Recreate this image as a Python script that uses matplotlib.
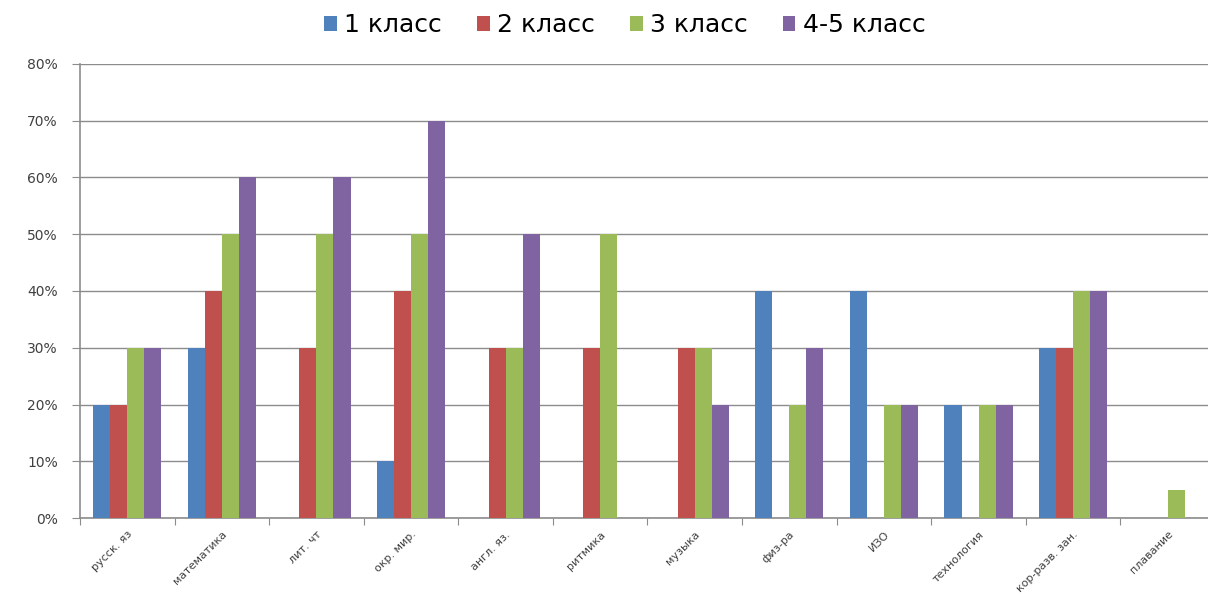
import matplotlib.pyplot as plt
import numpy as np
from matplotlib.ticker import PercentFormatter

# --- Data ---
subjects = ['русск. яз', 'математика', 'лит. чт', 'окр. мир.', 'англ. яз.', 'ритмика',
            'музыка', 'физ-ра', 'ИЗО', 'технология', 'кор-разв. зан.', 'плавание']
grade1 = [20, 30, 0, 10, 0, 0, 0, 40, 40, 20, 30, 0]
grade2 = [20, 40, 30, 40, 30, 30, 30, 0, 0, 0, 30, 0]
grade3 = [30, 50, 50, 50, 30, 50, 30, 20, 20, 20, 40, 5]
grade45 = [30, 60, 60, 70, 50, 0, 20, 30, 20, 20, 40, 0]
series_names = ['1 класс', '2 класс', '3 класс', '4-5 класс']
colors = ['#4F81BD', '#C0504D', '#9BBB59', '#8064A2']

fig = plt.figure(figsize=(12.08, 6.11), dpi=100)
ax = fig.add_axes([80 / 1208, 93 / 611, 1135 / 1208, 454 / 611])

x = np.arange(len(subjects))
w = 0.18
for i, (vals, name, c) in enumerate(zip([grade1, grade2, grade3, grade45], series_names, colors)):
    ax.bar(x + (i - 1.5) * w, vals, width=w, color=c, label=name, zorder=3)

ax.set_ylim(0, 80)
ax.set_xlim(-0.5, len(subjects) - 0.5)
ax.set_yticks(range(0, 81, 10))
ax.yaxis.set_major_formatter(PercentFormatter(decimals=0))
ax.grid(axis='y', color='#8c8c8c', linewidth=1, zorder=0)

ax.set_xticks(np.arange(len(subjects) + 1) - 0.5, minor=False)
ax.set_xticklabels([])
ax.set_xticks(x, minor=True)
ax.set_xticklabels(subjects, minor=True, rotation=45, ha='right', rotation_mode='anchor',
                   fontsize=8, color='#404040')
ax.tick_params(axis='x', which='minor', length=0, pad=8)
ax.tick_params(axis='x', which='major', length=5, color='#8c8c8c')
ax.tick_params(axis='y', length=6, color='#8c8c8c', labelsize=10, labelcolor='#404040', pad=10)

for s in ['top', 'right']:
    ax.spines[s].set_visible(False)
for s in ['left', 'bottom']:
    ax.spines[s].set_color('#8c8c8c')
    ax.spines[s].set_linewidth(1.2)

fig.legend(loc='upper center', bbox_to_anchor=(625 / 1208, 1.015), ncol=4, frameon=False,
           fontsize=18, handlelength=0.5, handleheight=0.5, handletextpad=0.3, columnspacing=1.4)

fig.savefig('out.png', dpi=100)
